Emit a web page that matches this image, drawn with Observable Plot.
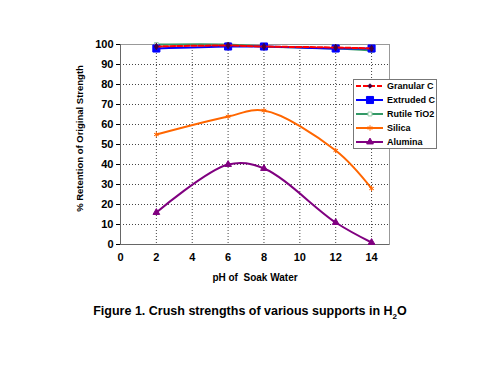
<!DOCTYPE html>
<html>
<head>
<meta charset="utf-8">
<script src="https://cdn.jsdelivr.net/npm/d3@7"></script>
<script src="https://cdn.jsdelivr.net/npm/@observablehq/plot@0.6"></script>
<style>
  body { margin: 0; background: #fff; width: 500px; height: 375px; position: relative; overflow: hidden; }
  #chart { position: absolute; left: 0; top: 0; }
  #legend { position: absolute; left: 353px; top: 79px; }
  #title { position: absolute; left: 0; width: 500px; top: 304px; text-align: center;
    font-family: "Liberation Sans", Arial, sans-serif; font-weight: bold; font-size: 12.5px; color: #000; }
  #title sub { font-size: 8px; }
  g[aria-label="y-axis label"] text { font-size: 9.5px; }
  g[aria-label="x-axis label"] text { font-size: 10px; }
</style>
</head>
<body>
<div id="chart"></div>
<div id="legend"></div>
<div id="title">Figure 1. Crush strengths of various supports in H<sub>2</sub>O</div>
<script>
const ph = [2, 6, 8, 12, 14];
const granularC = [99, 99.5, 99, 98.5, 98];
const extrudedC = [98, 99, 99, 98, 98];
const rutileTiO2 = [100, 100, 99, 98, 97];
const silica = [55, 64, 67, 47, 28];
const alumina = [16, 40, 38, 11, 1];
const seriesNames = ["Granular C", "Extruded C", "Rutile TiO2", "Silica", "Alumina"];
const xTicks = [0, 2, 4, 6, 8, 10, 12, 14];
const yTicks = [0, 10, 20, 30, 40, 50, 60, 70, 80, 90, 100];

const seriesValues = [granularC, extrudedC, rutileTiO2, silica, alumina];
const styles = {
  "Granular C": {stroke: "#ff0000", dash: "5,2", symbol: "diamond", r: 2, fill: "#400040", mstroke: "#400040"},
  "Extruded C": {stroke: "#0000ff", dash: null, symbol: "square", r: 4, fill: "#0000ff", mstroke: "#0000ff"},
  "Rutile TiO2": {stroke: "#339966", dash: null, symbol: "square", r: 2.2, fill: "#ffffff", mstroke: "#99ccaa"},
  "Silica": {stroke: "#ff6600", dash: null, symbol: "asterisk", r: 2.5, fill: "none", mstroke: "#ff6600"},
  "Alumina": {stroke: "#800080", dash: null, symbol: "triangle", r: 2.5, fill: "#800080", mstroke: "#800080"}
};
const data = seriesNames.flatMap((name, i) => ph.map((p, j) => ({series: name, ph: p, value: seriesValues[i][j]})));
const drawOrder = ["Alumina", "Silica", "Rutile TiO2", "Extruded C", "Granular C"];

const marks = [
  Plot.gridX(xTicks.filter(d => d > 0), {stroke: "#444", strokeOpacity: 1, strokeDasharray: "1,2"}),
  Plot.gridY(yTicks.filter(d => d > 0 && d < 100), {stroke: "#444", strokeOpacity: 1, strokeDasharray: "1,2"}),
  Plot.frame({stroke: "#999"}),
  Plot.axisY({ticks: yTicks, tickSize: 4, tickPadding: 3, label: "% Retention of Original Strength", labelAnchor: "center", labelArrow: "none", labelOffset: 44}),
  Plot.axisX({ticks: xTicks, tickSize: 0, tickPadding: 9, label: "pH of  Soak Water", labelAnchor: "center", labelArrow: "none", labelOffset: 36}),
  Plot.ruleY([0], {stroke: "#666"}),
  Plot.ruleX([0], {stroke: "#666"})
];
for (const name of drawOrder) {
  const s = styles[name];
  const sub = data.filter(d => d.series === name);
  marks.push(Plot.line(sub, {x: "ph", y: "value", stroke: s.stroke, strokeWidth: 2, curve: "catmull-rom", strokeDasharray: s.dash}));
  marks.push(Plot.dot(sub, {x: "ph", y: "value", symbol: () => s.symbol, r: s.r, fill: s.fill, stroke: s.mstroke, strokeWidth: 1}));
}

const chart = Plot.plot({
  width: 500, height: 290,
  marginLeft: 120, marginRight: 111, marginTop: 44, marginBottom: 46,
  x: {domain: [0, 15]},
  y: {domain: [0, 100]},
  style: {fontFamily: "'Liberation Sans', Arial, sans-serif", fontWeight: "bold", fontSize: "11px", color: "#000", background: "#fff"},
  marks
});
document.getElementById("chart").append(chart);
d3.select(chart).select('g[aria-label="y-axis label"] text').attr("dx", 6);

// legend
const lw = 84, lh = 70;
const lsvg = d3.select("#legend").append("svg").attr("width", lw).attr("height", lh);
lsvg.append("rect").attr("x", 0.5).attr("y", 0.5).attr("width", lw - 1).attr("height", lh - 1).attr("fill", "#fff").attr("stroke", "#777");
const symMap = {diamond: d3.symbolDiamond2, square: d3.symbolSquare, asterisk: d3.symbolAsterisk, triangle: d3.symbolTriangle};
seriesNames.forEach((name, i) => {
  const s = styles[name];
  const y = 7 + i * 14;
  const g = lsvg.append("g").attr("transform", `translate(0,${y})`);
  g.append("line").attr("x1", 3).attr("x2", 30).attr("y1", 0).attr("y2", 0)
    .attr("stroke", s.stroke).attr("stroke-width", 2).attr("stroke-dasharray", s.dash);
  const area = Math.PI * s.r * s.r;
  g.append("path").attr("transform", "translate(17,0)")
    .attr("d", d3.symbol(symMap[s.symbol], area)())
    .attr("fill", s.fill).attr("stroke", s.mstroke);
  g.append("text").attr("x", 34).attr("y", 0).attr("dy", "0.35em")
    .attr("font-family", "'Liberation Sans', Arial, sans-serif").attr("font-weight", "bold").attr("font-size", "9px")
    .text(name);
});
</script>
</body>
</html>
